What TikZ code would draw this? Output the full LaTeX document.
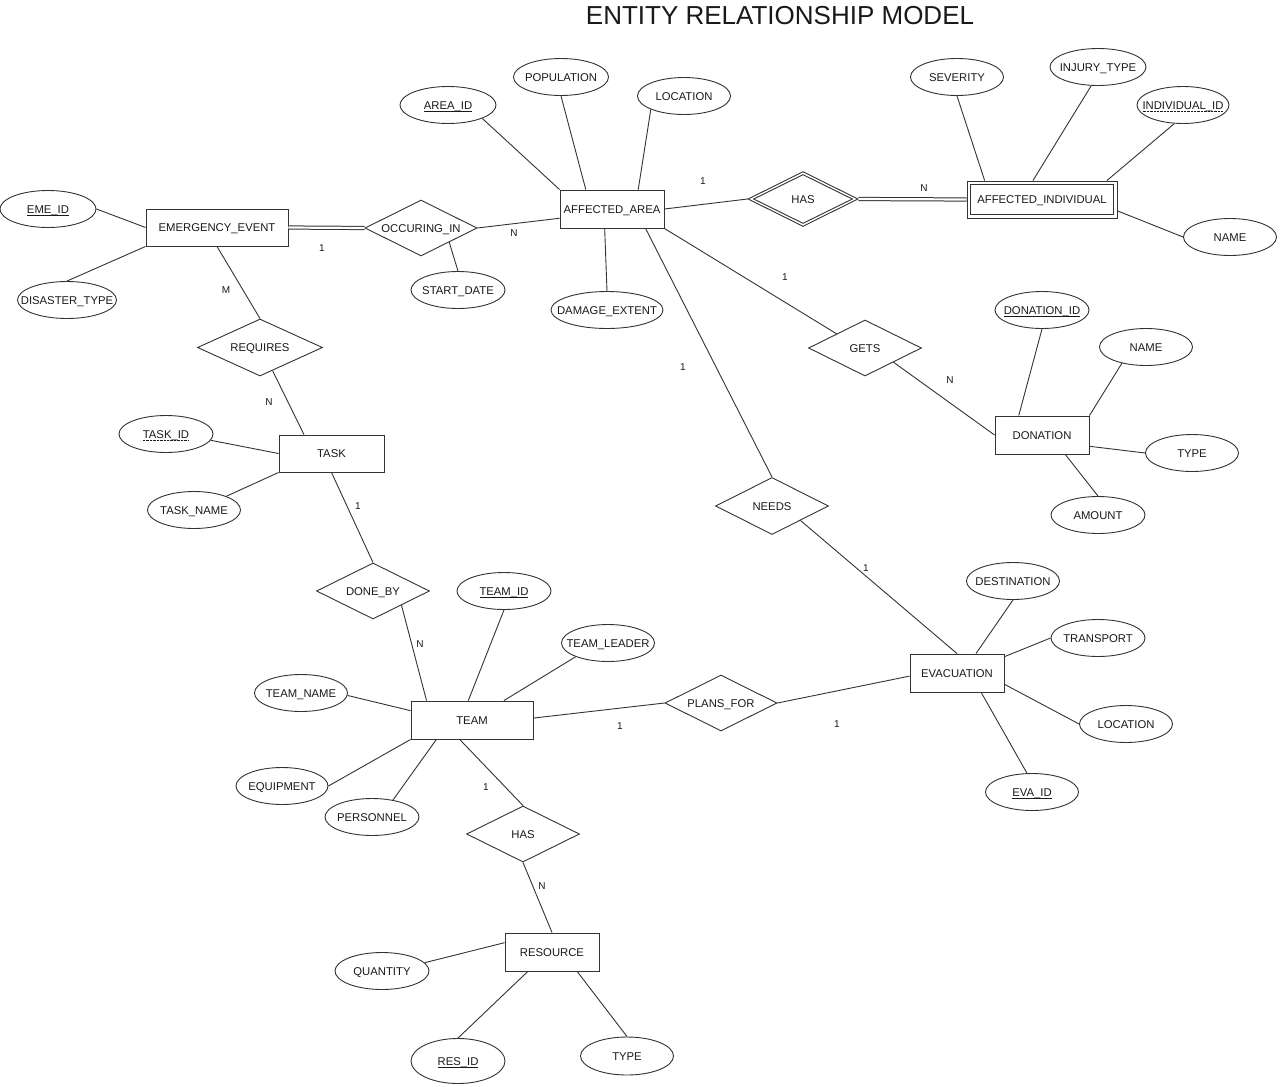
\documentclass[tikz,border=0pt]{standalone}
\usepackage{fontspec}
\setmainfont{Liberation Sans}
\usetikzlibrary{shapes.geometric,calc}
\newcommand{\ztx}[1]{\makebox[0pt]{#1}}
\newcommand{\sul}[1]{{\setbox0\hbox{#1}\rlap{\raisebox{-2.2pt}{\rule{\wd0}{0.6pt}}}\box0}}
\newcommand{\dul}[1]{{\setbox0\hbox{#1}\rlap{\raisebox{-2.2pt}{\hbox to \wd0{\xleaders\hbox to 1.4pt{\rule{0.7pt}{0.6pt}\hss}\hfil}}}\box0}}
\tikzset{
  lbl/.style={font=\fontsize{11.3}{13}\selectfont, text=black!90, text height=8.1pt, text depth=0pt},
  ent/.style={lbl, draw=black!80, line width=0.9pt, rectangle, inner sep=0pt},
  rel/.style={lbl, draw=black!80, line width=0.9pt, diamond, inner sep=0pt},
  att/.style={lbl, draw=black!80, line width=0.9pt, ellipse, inner sep=0pt, minimum width=94pt, minimum height=37pt},
  conn/.style={draw=black!80, line width=0.9pt},
  dbl/.style={conn, line width=1pt, double, double distance=2.2pt},
  card/.style={font=\fontsize{10}{12}\selectfont, text=black!90, inner sep=0pt},
}
\begin{document}
\begin{tikzpicture}[x=1pt,y=-1pt]
\useasboundingbox[fill=white] (0,0) rectangle (1280,1087);
\node[font=\fontsize{26}{30}\selectfont, text=black!90] (title) at (780,16) {ENTITY RELATIONSHIP MODEL};

% entities
\node[ent, minimum width=142pt, minimum height=37pt] (ee) at (217,227.5) {EMERGENCY\_EVENT};
\node[ent, minimum width=104pt, minimum height=38pt] (aa) at (612,209) {AFFECTED\_AREA};
\node[ent, minimum width=150pt, minimum height=37pt] (ai) at (1042,199.5) {AFFECTED\_INDIVIDUAL};
\draw[conn] ([shift={(4pt,-4pt)}]ai.north west) rectangle ([shift={(-4pt,4pt)}]ai.south east);
\node[ent, minimum width=105pt, minimum height=37pt] (task) at (331.5,453.5) {TASK};
\node[ent, minimum width=94pt, minimum height=38pt] (don) at (1042,435) {DONATION};
\node[ent, minimum width=94pt, minimum height=38pt] (evac) at (957,673) {EVACUATION};
\node[ent, minimum width=122pt, minimum height=38pt] (team) at (472,720) {TEAM};
\node[ent, minimum width=94pt, minimum height=38pt] (res) at (552,952) {RESOURCE};

% relationships
\node[rel, minimum width=112pt, minimum height=56pt] (oc) at (421,228) {\ztx{OCCURING\_IN}};
\node[rel, minimum width=110pt, minimum height=55pt] (has1) at (803,199) {\ztx{HAS}};
\node[rel, minimum width=99pt, minimum height=49pt] (has1i) at (803,199) {};
\node[rel, minimum width=125pt, minimum height=57pt] (req) at (260,347.5) {\ztx{REQUIRES}};
\node[rel, minimum width=113pt, minimum height=56pt] (gets) at (865,348) {\ztx{GETS}};
\node[rel, minimum width=113pt, minimum height=57pt] (needs) at (772,506) {\ztx{NEEDS}};
\node[rel, minimum width=113pt, minimum height=56pt] (db) at (373,591) {\ztx{DONE\_BY}};
\node[rel, minimum width=112pt, minimum height=56pt] (pf) at (721,703) {\ztx{PLANS\_FOR}};
\node[rel, minimum width=113pt, minimum height=56pt] (has2) at (523,834) {\ztx{HAS}};

% attributes
\node[att, minimum width=96pt] (emeid) at (48,209) {\ztx{\sul{EME\_ID}}};
\node[att, minimum width=99pt] (dt) at (67,300) {\ztx{DISASTER\_TYPE}};
\node[att, minimum width=96pt] (areaid) at (448,105) {\ztx{\sul{AREA\_ID}}};
\node[att, minimum width=95pt] (pop) at (561,77) {\ztx{POPULATION}};
\node[att, minimum width=93pt] (loca) at (684,96) {\ztx{LOCATION}};
\node[att] (sd) at (458,290) {\ztx{START\_DATE}};
\node[att, minimum width=112pt] (de) at (607,310) {\ztx{DAMAGE\_EXTENT}};
\node[att, minimum width=93pt] (sev) at (957,77) {\ztx{SEVERITY}};
\node[att, minimum width=96pt] (inj) at (1098,67) {\ztx{INJURY\_TYPE}};
\node[att, minimum width=92pt] (indid) at (1183,105) {\ztx{\dul{INDIVIDUAL\_ID}}};
\node[att, minimum width=93pt] (namea) at (1230,237) {\ztx{NAME}};
\node[att] (donid) at (1042,310) {\ztx{\sul{DONATION\_ID}}};
\node[att, minimum width=93pt] (nameb) at (1146,347) {\ztx{NAME}};
\node[att, minimum width=93pt] (typea) at (1192,453) {\ztx{TYPE}};
\node[att] (amount) at (1098,515) {\ztx{AMOUNT}};
\node[att] (taskid) at (166,434) {\ztx{\dul{TASK\_ID}}};
\node[att, minimum width=93pt] (taskname) at (194,510) {\ztx{TASK\_NAME}};
\node[att] (teamid) at (504,591) {\ztx{\sul{TEAM\_ID}}};
\node[att, minimum width=93pt] (tl) at (608,643) {\ztx{TEAM\_LEADER}};
\node[att, minimum width=93pt] (teamname) at (301,693) {\ztx{TEAM\_NAME}};
\node[att, minimum width=92pt] (equip) at (282,786) {\ztx{EQUIPMENT}};
\node[att] (pers) at (372,817) {\ztx{PERSONNEL}};
\node[att, minimum width=93pt] (dest) at (1013,581) {\ztx{DESTINATION}};
\node[att] (trans) at (1098,638) {\ztx{TRANSPORT}};
\node[att, minimum width=93pt] (locb) at (1126,724) {\ztx{LOCATION}};
\node[att, minimum width=93pt] (evaid) at (1032,792) {\ztx{\sul{EVA\_ID}}};
\node[att] (qty) at (382,971) {\ztx{QUANTITY}};
\node[att, minimum height=45pt] (resid) at (458,1061) {\ztx{\sul{RES\_ID}}};
\node[att, minimum width=93pt, minimum height=38pt] (typeb) at (627,1056) {\ztx{TYPE}};

% connectors
\draw[conn] (emeid.east) -- (ee.west);
\draw[conn] (dt.north) -- (ee.south west);
\draw[dbl] (ee.east) -- (oc.west);
\draw[conn] (oc.east) -- (aa.190);
\draw[conn] (oc.south east) -- (sd.north);
\draw[conn] (areaid.south east) -- (aa.north west);
\draw[conn] (pop.south) -- ($(aa.north west)!0.25!(aa.north east)$);
\draw[conn] (loca.south west) -- ($(aa.north west)!0.75!(aa.north east)$);
\draw[conn] (de.north) -- ($(aa.south west)!0.43!(aa.south east)$);
\draw[conn] (aa.east) -- (has1.west);
\draw[dbl] (has1.east) -- (ai.west);
\draw[conn] (sev.south) -- ($(ai.north west)!0.12!(ai.north east)$);
\draw[conn] (inj.250) -- ($(ai.north west)!0.44!(ai.north east)$);
\draw[conn] (indid.245) -- ($(ai.north west)!0.93!(ai.north east)$);
\draw[conn] ($(ai.north east)!0.8!(ai.south east)$) -- (namea.west);
\draw[conn] (aa.south east) -- (gets.north west);
\draw[conn] (gets.south east) -- (don.west);
\draw[conn] (donid.south) -- ($(don.north west)!0.255!(don.north east)$);
\draw[conn] (nameb.214) -- (don.north east);
\draw[conn] ($(don.north east)!0.79!(don.south east)$) -- (typea.west);
\draw[conn] ($(don.south west)!0.745!(don.south east)$) -- (amount.north);
\draw[conn] ($(aa.south west)!0.82!(aa.south east)$) -- (needs.north);
\draw[conn] (needs.south east) -- (evac.north);
\draw[conn] (dest.south) -- ($(evac.north west)!0.7!(evac.north east)$);
\draw[conn] ($(evac.north east)!0.08!(evac.south east)$) -- (trans.west);
\draw[conn] ($(evac.north east)!0.79!(evac.south east)$) -- (locb.west);
\draw[conn] ($(evac.south west)!0.755!(evac.south east)$) -- (evaid.105);
\draw[conn] (pf.east) -- ($(evac.north west)!0.58!(evac.south west)$);
\draw[conn] ($(team.north east)!0.45!(team.south east)$) -- (pf.west);
\draw[conn] (ee.south) -- (req.north);
\draw[conn] ($(req.south)!0.2!(req.east)$) -- ($(task.north west)!0.24!(task.north east)$);
\draw[conn] (taskid.-8) -- (task.west);
\draw[conn] (taskname.23) -- (task.south west);
\draw[conn] (task.south) -- (db.north);
\draw[conn] (db.south east) -- ($(team.north west)!0.13!(team.north east)$);
\draw[conn] (teamid.south) -- ($(team.north west)!0.47!(team.north east)$);
\draw[conn] (tl.203) -- ($(team.north west)!0.76!(team.north east)$);
\draw[conn] (teamname.-3) -- ($(team.north west)!0.26!(team.south west)$);
\draw[conn] (equip.east) -- (team.south west);
\draw[conn] (pers.39) -- ($(team.south west)!0.21!(team.south east)$);
\draw[conn] ($(team.south west)!0.4!(team.south east)$) -- (has2.north);
\draw[conn] (has2.south) -- (res.north);
\draw[conn] (qty.11) -- ($(res.north west)!0.26!(res.south west)$);
\draw[conn] ($(res.south west)!0.245!(res.south east)$) -- (resid.north);
\draw[conn] ($(res.south west)!0.765!(res.south east)$) -- (typeb.north);

% cardinalities
\node[card] (k1) at (322,248) {1};
\node[card] (k2) at (514,233) {N};
\node[card] (k3) at (226,290) {M};
\node[card] (k4) at (269,402) {N};
\node[card] (k5) at (703,181) {1};
\node[card] (k6) at (924,188) {N};
\node[card] (k7) at (785,277) {1};
\node[card] (k8) at (683,367) {1};
\node[card] (k9) at (950,380) {N};
\node[card] (k10) at (358,506) {1};
\node[card] (k11) at (420,644) {N};
\node[card] (k12) at (866,568) {1};
\node[card] (k13) at (620,726) {1};
\node[card] (k14) at (837,724) {1};
\node[card] (k15) at (486,787) {1};
\node[card] (k16) at (542,886) {N};
\end{tikzpicture}
\end{document}
